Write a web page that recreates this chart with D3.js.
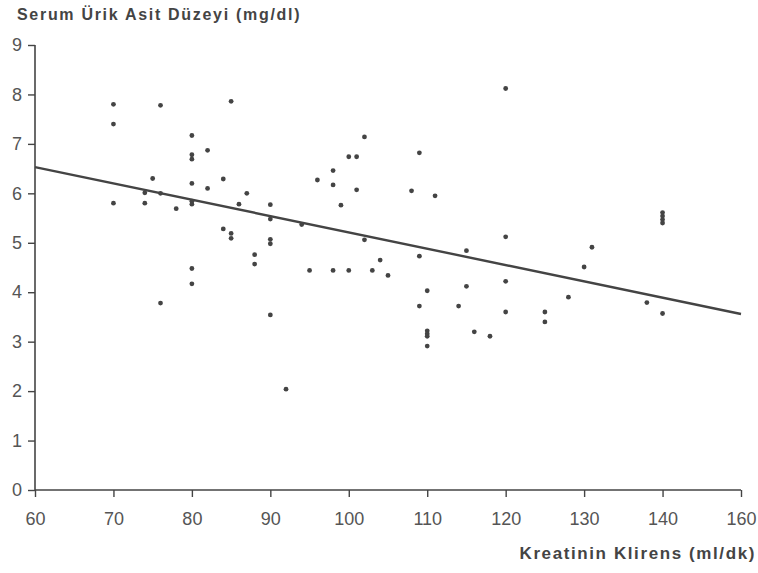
<!DOCTYPE html>
<html lang="tr">
<head>
    <meta charset="UTF-8">
    <title>Serum Ürik Asit - Kreatinin Klirens</title>
    <style>
        body { margin: 0; background: #fff; }
        svg { display: block; }
        .tick text { font-family: "Liberation Sans", Arial, sans-serif; fill: #555; }
        .axis-title { font-family: "Liberation Sans", Arial, sans-serif; font-weight: bold; fill: #444; }
    </style>
    <script src="https://d3js.org/d3.v7.min.js"></script>
</head>
<body>
    <div id="chart"></div>
    <script>
        const width = 758;
        const height = 573;

        // kreatinin klirens (ml/dk)
        const clearance = [
            70, 70, 76, 85, 80, 80, 80, 82, 75, 80, 82, 84, 87, 70, 74, 74, 76, 78, 80, 80,
            86, 84, 85, 85, 88, 88, 80, 80, 76,
            102, 100, 101, 109, 98, 96, 98, 101, 108, 111, 90, 99, 90, 94, 90, 90, 102, 115,
            109, 104, 95, 98, 100, 103, 105, 110, 115, 109, 114, 90, 110, 110, 110, 110, 116,
            118, 92,
            120, 140, 140, 140, 140, 120, 131, 130, 120, 128, 138, 140, 120, 125, 125
        ];
        // serum ürik asit (mg/dl)
        const uricAcid = [
            7.8, 7.4, 7.78, 7.86, 7.17, 6.78, 6.69, 6.87, 6.3, 6.2, 6.1, 6.29, 6.0, 5.8, 6.01, 5.8, 6.0, 5.69, 5.84, 5.78,
            5.78, 5.28, 5.19, 5.09, 4.76, 4.57, 4.48, 4.17, 3.78,
            7.14, 6.74, 6.74, 6.82, 6.46, 6.27, 6.17, 6.07, 6.05, 5.95, 5.77, 5.76, 5.48, 5.37, 5.07, 4.98, 5.06, 4.84,
            4.73, 4.65, 4.44, 4.44, 4.44, 4.44, 4.34, 4.03, 4.12, 3.72, 3.72, 3.54, 3.22, 3.16, 3.11, 2.91, 3.2,
            3.11, 2.04,
            8.12, 5.61, 5.54, 5.47, 5.40, 5.12, 4.91, 4.51, 4.22, 3.9, 3.79, 3.57, 3.6, 3.6, 3.4
        ];

        // regresyon doğrusu (resimden okunan uç noktalar)
        const fitX = [60, 150];
        const fitY = [6.53, 3.56];

        const xTicks = [60, 70, 80, 90, 100, 110, 120, 130, 140, 150];
        const xTickLabels = ["60", "70", "80", "90", "100", "110", "120", "130", "140", "160"];
        const yTicks = [0, 1, 2, 3, 4, 5, 6, 7, 8, 9];

        const points = clearance.map((c, i) => ({ x: c, y: uricAcid[i] }));

        const svg = d3.select("#chart")
            .append("svg")
            .attr("width", width)
            .attr("height", height);

        const x = d3.scaleLinear().domain([60, 150]).range([35, 741]);
        const y = d3.scaleLinear().domain([0, 9]).range([490, 45]);

        // X axis
        const xAxis = svg.append("g")
            .attr("transform", `translate(0,${y(0)})`)
            .call(d3.axisBottom(x)
                .tickValues(xTicks)
                .tickFormat((d, i) => xTickLabels[i])
                .tickSize(7)
                .tickPadding(15));
        xAxis.select(".domain").attr("stroke", "#444").attr("stroke-width", 1.6).attr("d", `M${x(60)},0H${x(150)}`);
        xAxis.selectAll(".tick line").attr("stroke", "#444").attr("stroke-width", 1.4);
        xAxis.selectAll(".tick text").style("font-size", "18px");

        // Y axis
        const yAxis = svg.append("g")
            .attr("transform", `translate(${x(60)},0)`)
            .call(d3.axisLeft(y)
                .tickValues(yTicks)
                .tickSize(7)
                .tickPadding(6));
        yAxis.select(".domain").attr("stroke", "#444").attr("stroke-width", 1.6).attr("d", `M0,${y(9)}V${y(0)}`);
        yAxis.selectAll(".tick line").attr("stroke", "#444").attr("stroke-width", 1.4);
        yAxis.selectAll(".tick text").style("font-size", "18px");

        // Regression line
        const line = d3.line().x(d => x(d[0])).y(d => y(d[1]));
        svg.append("path")
            .datum(fitX.map((v, i) => [v, fitY[i]]))
            .attr("d", line)
            .attr("fill", "none")
            .attr("stroke", "#444")
            .attr("stroke-width", 2.4);

        // Points
        svg.append("g")
            .selectAll("circle")
            .data(points)
            .enter().append("circle")
            .attr("cx", d => x(d.x))
            .attr("cy", d => y(d.y))
            .attr("r", 2.4)
            .attr("fill", "#444");

        // Titles
        svg.append("text")
            .attr("class", "axis-title")
            .attr("x", 17)
            .attr("y", 20)
            .style("font-size", "16px")
            .style("letter-spacing", "1.7px")
            .text("Serum Ürik Asit Düzeyi (mg/dl)");

        svg.append("text")
            .attr("class", "axis-title")
            .attr("x", 756)
            .attr("y", 559)
            .attr("text-anchor", "end")
            .style("font-size", "17px")
            .style("letter-spacing", "1.6px")
            .text("Kreatinin Klirens (ml/dk)");
    </script>
</body>
</html>
